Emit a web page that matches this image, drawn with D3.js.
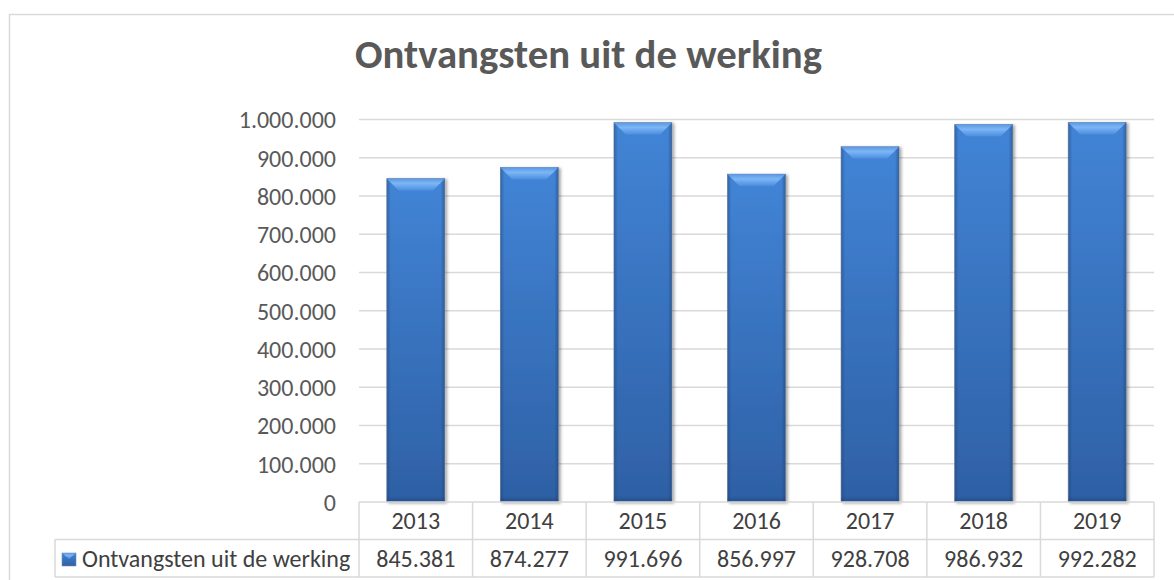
<!DOCTYPE html>
<html>
<head>
<meta charset="utf-8">
<script src="https://cdn.jsdelivr.net/npm/d3@7"></script>
<style>
  body { margin: 0; background: #fff; }
  svg text { font-family: Carlito, "Open Sans", sans-serif; }
</style>
</head>
<body>
<script>
let width = 1174,
    height = 580;

let title = "Ontvangsten uit de werking";
let seriesName = "Ontvangsten uit de werking";
let years = ["2013", "2014", "2015", "2016", "2017", "2018", "2019"];
let values = [845381, 874277, 991696, 856997, 928708, 986932, 992282];
let yTicks = [0, 100000, 200000, 300000, 400000, 500000, 600000, 700000, 800000, 900000, 1000000];

let nl = d3.formatLocale({decimal: ",", thousands: ".", grouping: [3], currency: ["€", ""]});
let fmt = nl.format(",d");

let margin = {left: 359, right: 20, top: 119.5, axis: 502};
let plotRight = 1154;
let rowH = 37.5;
let tableLeft = 55;
let fontSize = 24;

let svg = d3.select('body').append('svg')
    .attr('width', width)
    .attr('height', height);

let defs = svg.append('defs');

let faceGrad = defs.append('linearGradient').attr('id', 'face')
    .attr('x1', 0).attr('y1', 0).attr('x2', 0).attr('y2', 1);
faceGrad.append('stop').attr('offset', '0%').attr('stop-color', '#4284d6');
faceGrad.append('stop').attr('offset', '100%').attr('stop-color', '#2e60a5');

let topGrad = defs.append('linearGradient').attr('id', 'bevelTop')
    .attr('x1', 0).attr('y1', 0).attr('x2', 0).attr('y2', 1);
topGrad.append('stop').attr('offset', '0%').attr('stop-color', '#5a98e4');
topGrad.append('stop').attr('offset', '40%').attr('stop-color', '#7cb6f6');
topGrad.append('stop').attr('offset', '100%').attr('stop-color', '#4a8cde');

let leftGrad = defs.append('linearGradient').attr('id', 'edgeL')
    .attr('x1', 0).attr('y1', 0).attr('x2', 1).attr('y2', 0);
leftGrad.append('stop').attr('offset', '0%').attr('stop-color', '#1c3f72').attr('stop-opacity', 0.45);
leftGrad.append('stop').attr('offset', '100%').attr('stop-color', '#1c3f72').attr('stop-opacity', 0);

let rightGrad = defs.append('linearGradient').attr('id', 'edgeR')
    .attr('x1', 0).attr('y1', 0).attr('x2', 1).attr('y2', 0);
rightGrad.append('stop').attr('offset', '0%').attr('stop-color', '#1c3f72').attr('stop-opacity', 0);
rightGrad.append('stop').attr('offset', '100%').attr('stop-color', '#1c3f72').attr('stop-opacity', 0.5);

let bottomGrad = defs.append('linearGradient').attr('id', 'edgeB')
    .attr('x1', 0).attr('y1', 0).attr('x2', 0).attr('y2', 1);
bottomGrad.append('stop').attr('offset', '0%').attr('stop-color', '#1c3f72').attr('stop-opacity', 0);
bottomGrad.append('stop').attr('offset', '100%').attr('stop-color', '#1c3f72').attr('stop-opacity', 0.55);

let shadow = defs.append('filter').attr('id', 'shadow')
    .attr('x', '-20%').attr('y', '-5%').attr('width', '140%').attr('height', '110%');
shadow.append('feDropShadow')
    .attr('dx', 2).attr('dy', 1).attr('stdDeviation', 1.5)
    .attr('flood-color', '#000').attr('flood-opacity', 0.35);

// outer chart border
svg.append('rect')
    .attr('x', 9.5).attr('y', 14.5)
    .attr('width', 1200).attr('height', 600)
    .attr('fill', 'none')
    .attr('stroke', '#d9d9d9')
    .attr('stroke-width', 1.5);

// title
svg.append('text')
    .attr('x', 588.5).attr('y', 68)
    .attr('text-anchor', 'middle')
    .attr('font-size', 41)
    .attr('font-weight', 'bold')
    .attr('fill', '#595959')
    .attr('textLength', 467)
    .attr('lengthAdjust', 'spacingAndGlyphs')
    .text(title);

let x = d3.scaleBand()
    .domain(years)
    .range([margin.left, plotRight])
    .paddingInner(0.49)
    .paddingOuter(0.245);

let y = d3.scaleLinear()
    .domain([0, 1000000])
    .range([margin.axis, margin.top]);

// gridlines
svg.append('g').selectAll('line').data(yTicks.filter(d => d > 0)).enter()
    .append('line')
    .attr('x1', margin.left).attr('x2', plotRight)
    .attr('y1', d => y(d)).attr('y2', d => y(d))
    .attr('stroke', '#d9d9d9')
    .attr('stroke-width', 1.5);

// y axis labels
let yAxis = d3.axisLeft(y).tickValues(yTicks).tickFormat(fmt).tickSize(0).tickPadding(0);
let yg = svg.append('g').attr('transform', 'translate(336,0)').call(yAxis);
yg.select('.domain').remove();
yg.selectAll('text')
    .attr('font-size', fontSize)
    .attr('fill', '#595959')
    .attr('dy', '0.35em')
    .style('font-family', 'Carlito, "Open Sans", sans-serif');

// bars
let bw = x.bandwidth();
let bevel = 12;
let bars = svg.append('g').selectAll('g').data(values).enter()
    .append('g')
    .attr('transform', (d, i) => 'translate(' + x(years[i]) + ',' + y(d) + ')');

bars.append('rect')
    .attr('width', bw)
    .attr('height', d => y(0) - y(d))
    .attr('fill', 'url(#face)')
    .attr('stroke', '#7d8ea6')
    .attr('stroke-width', 0.8)
    .attr('filter', 'url(#shadow)');
bars.append('rect')
    .attr('width', 4)
    .attr('height', d => y(0) - y(d))
    .attr('fill', 'url(#edgeL)');
bars.append('rect')
    .attr('x', bw - 4)
    .attr('width', 4)
    .attr('height', d => y(0) - y(d))
    .attr('fill', 'url(#edgeR)');
bars.append('rect')
    .attr('y', d => y(0) - y(d) - 6)
    .attr('width', bw)
    .attr('height', 6)
    .attr('fill', 'url(#edgeB)');
bars.append('path')
    .attr('d', 'M0,0 L' + bw + ',0 L' + (bw - bevel) + ',' + bevel + ' L' + bevel + ',' + bevel + ' Z')
    .attr('fill', 'url(#bevelTop)');

// data table
let table = svg.append('g').attr('stroke', '#d9d9d9').attr('stroke-width', 1.5);
let step = x.step();
let colEdges = years.map((d, i) => margin.left + i * step).concat([plotRight]);
table.append('line')
    .attr('x1', margin.left).attr('x2', plotRight)
    .attr('y1', margin.axis).attr('y2', margin.axis);
table.selectAll('.hrow').data([margin.axis + rowH, margin.axis + 2 * rowH]).enter()
    .append('line')
    .attr('x1', tableLeft).attr('x2', plotRight)
    .attr('y1', d => d).attr('y2', d => d);
table.selectAll('.vcol').data(colEdges).enter()
    .append('line')
    .attr('x1', d => d).attr('x2', d => d)
    .attr('y1', margin.axis).attr('y2', margin.axis + 2 * rowH);
table.append('line')
    .attr('x1', tableLeft).attr('x2', tableLeft)
    .attr('y1', margin.axis + rowH).attr('y2', margin.axis + 2 * rowH);

svg.append('g').selectAll('text').data(years).enter()
    .append('text')
    .attr('x', d => x(d) + bw / 2)
    .attr('y', margin.axis + rowH / 2)
    .attr('dy', '0.35em')
    .attr('text-anchor', 'middle')
    .attr('font-size', fontSize)
    .attr('fill', '#404040')
    .text(d => d);

svg.append('g').selectAll('text').data(values).enter()
    .append('text')
    .attr('x', (d, i) => x(years[i]) + bw / 2)
    .attr('y', margin.axis + rowH * 1.5)
    .attr('dy', '0.35em')
    .attr('text-anchor', 'middle')
    .attr('font-size', fontSize)
    .attr('fill', '#404040')
    .text(d => fmt(d));

// legend key + series name
let key = svg.append('g').attr('transform', 'translate(62,553)');
key.append('rect').attr('width', 14).attr('height', 13).attr('fill', 'url(#face)')
    .attr('stroke', '#7d8ea6').attr('stroke-width', 0.6);
key.append('path').attr('d', 'M0,0 L14,0 L7,6 Z').attr('fill', 'url(#bevelTop)');

svg.append('text')
    .attr('x', 82)
    .attr('y', margin.axis + rowH * 1.5)
    .attr('dy', '0.35em')
    .attr('font-size', fontSize)
    .attr('fill', '#404040')
    .text(seriesName);
</script>
</body>
</html>
